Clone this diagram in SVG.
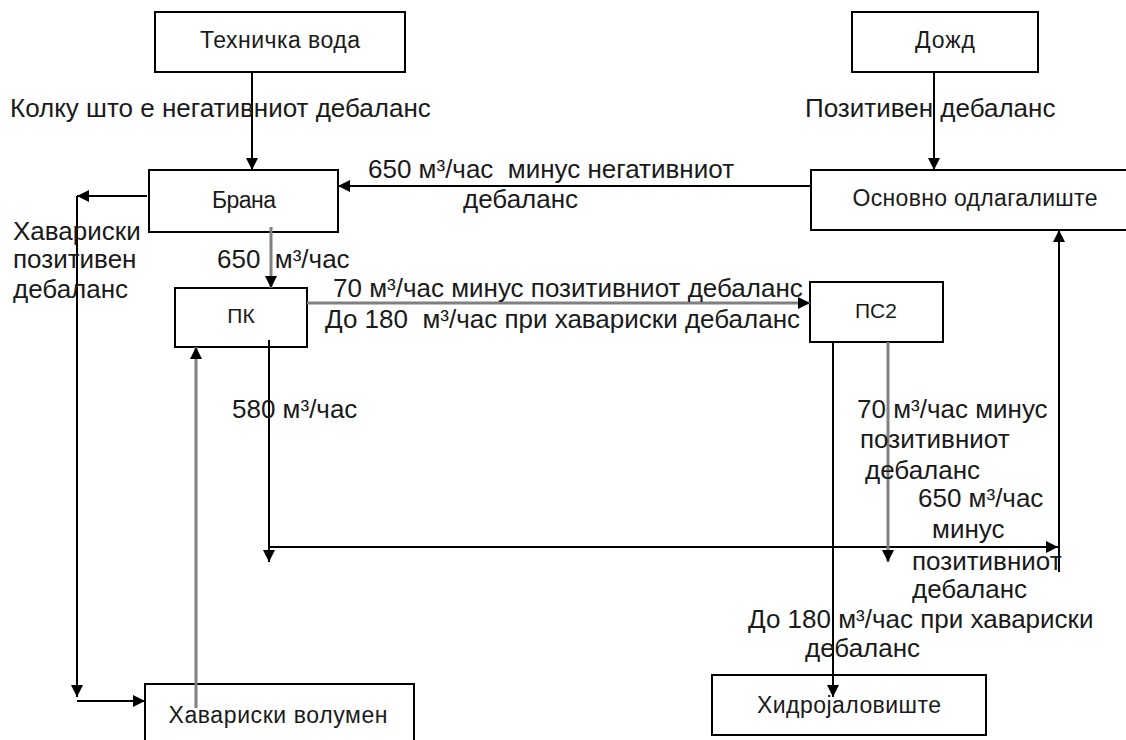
<svg xmlns="http://www.w3.org/2000/svg" width="1126" height="740" viewBox="0 0 1126 740">
  <style>
    .box { fill: #ffffff; stroke: #000000; stroke-width: 2; }
    .nl { font-family: "Liberation Sans", Arial, sans-serif; font-size: 23px; fill: #1a1a1a; text-anchor: middle; }
    .nl2 { font-family: "Liberation Sans", Arial, sans-serif; font-size: 21px; fill: #1a1a1a; text-anchor: middle; }
    .el { font-family: "Liberation Sans", Arial, sans-serif; font-size: 26px; fill: #1a1a1a; white-space: pre; }
    .ln { fill: none; stroke: #000000; stroke-width: 2; }
    .gl { fill: none; stroke: #808080; stroke-width: 3; }
    .ar { marker-end: url(#ah); }
  </style>
  <defs>
    <marker id="ah" markerUnits="userSpaceOnUse" markerWidth="12" markerHeight="12" refX="12" refY="6" orient="auto">
      <path d="M0,0 L12,6 L0,12 z" fill="#000000"/>
    </marker>
  </defs>
  <rect width="1126" height="740" fill="#ffffff"/>

  <g id="node-tehnicka">
    <rect class="box" x="155" y="12" width="250" height="60"/>
    <text class="nl" x="280" y="48" textLength="160">Техничка вода</text>
  </g>
  <g id="node-dozd">
    <rect class="box" x="852" y="12" width="186" height="60"/>
    <text class="nl" x="945" y="48" textLength="60">Дожд</text>
  </g>
  <g id="node-brana">
    <rect class="box" x="149" y="170" width="189" height="62"/>
    <text class="nl" x="244" y="208" textLength="64">Брана</text>
  </g>
  <g id="node-osnovno">
    <rect class="box" x="811" y="170" width="330" height="60"/>
    <text class="nl" x="975" y="206" textLength="245">Основно одлагалиште</text>
  </g>
  <g id="node-pk">
    <rect class="box" x="175" y="288" width="132" height="59"/>
    <text class="nl2" x="241" y="323">ПК</text>
  </g>
  <g id="node-ps2">
    <rect class="box" x="810" y="282" width="133" height="60"/>
    <text class="nl2" x="876" y="318">ПС2</text>
  </g>
  <g id="node-havariski">
    <rect class="box" x="145" y="684" width="269" height="80"/>
    <text class="nl" x="278" y="723" textLength="219">Хавариски волумен</text>
  </g>
  <g id="node-hidro">
    <rect class="box" x="712" y="675" width="274" height="60"/>
    <text class="nl" x="849" y="713" textLength="184">Хидројаловиште</text>
  </g>

  <g id="connectors">
    <line class="ln ar" x1="252" y1="72" x2="252" y2="170"/>
    <line class="ln ar" x1="934" y1="72" x2="934" y2="170"/>
    <line class="ln ar" x1="811" y1="186" x2="338" y2="186"/>
    <line class="ln ar" x1="147" y1="196" x2="77" y2="196"/>
    <line class="ln ar" x1="77" y1="196" x2="77" y2="697"/>
    <line class="ln ar" x1="77" y1="701" x2="145" y2="701"/>
    <line class="gl ar" x1="271" y1="227" x2="271" y2="288"/>
    <line class="gl ar" x1="307" y1="303" x2="810" y2="303"/>
    <line class="gl ar" x1="196" y1="708" x2="196" y2="347"/>
    <line class="ln ar" x1="269" y1="340" x2="269" y2="562"/>
    <line class="ln ar" x1="269" y1="547" x2="1058" y2="547"/>
    <line class="ln ar" x1="1059" y1="572" x2="1059" y2="230"/>
    <line class="ln ar" x1="833" y1="342" x2="833" y2="697"/>
    <line class="gl ar" x1="888" y1="342" x2="888" y2="562"/>
  </g>

  <g id="edge-labels">
    <text class="el" x="10" y="117">Колку што е негативниот дебаланс</text>
    <text class="el" x="805" y="117">Позитивен дебаланс</text>
    <text class="el" x="368" y="178">650 м³/час  минус негативниот</text>
    <text class="el" x="463" y="208">дебаланс</text>
    <text class="el" x="13" y="240">Хавариски</text>
    <text class="el" x="13" y="268">позитивен</text>
    <text class="el" x="13" y="298">дебаланс</text>
    <text class="el" x="217" y="268">650  м³/час</text>
    <text class="el" x="333" y="297">70 м³/час минус позитивниот дебаланс</text>
    <text class="el" x="325" y="328">До 180  м³/час при хавариски дебаланс</text>
    <text class="el" x="232" y="418">580 м³/час</text>
    <text class="el" x="857" y="418">70 м³/час минус</text>
    <text class="el" x="860" y="448">позитивниот</text>
    <text class="el" x="865" y="479">дебаланс</text>
    <text class="el" x="918" y="507">650 м³/час</text>
    <text class="el" x="932" y="538">минус</text>
    <text class="el" x="912" y="570">позитивниот</text>
    <text class="el" x="912" y="598">дебаланс</text>
    <text class="el" x="748" y="628">До 180 м³/час при хавариски</text>
    <text class="el" x="805" y="657">дебаланс</text>
  </g>
</svg>
